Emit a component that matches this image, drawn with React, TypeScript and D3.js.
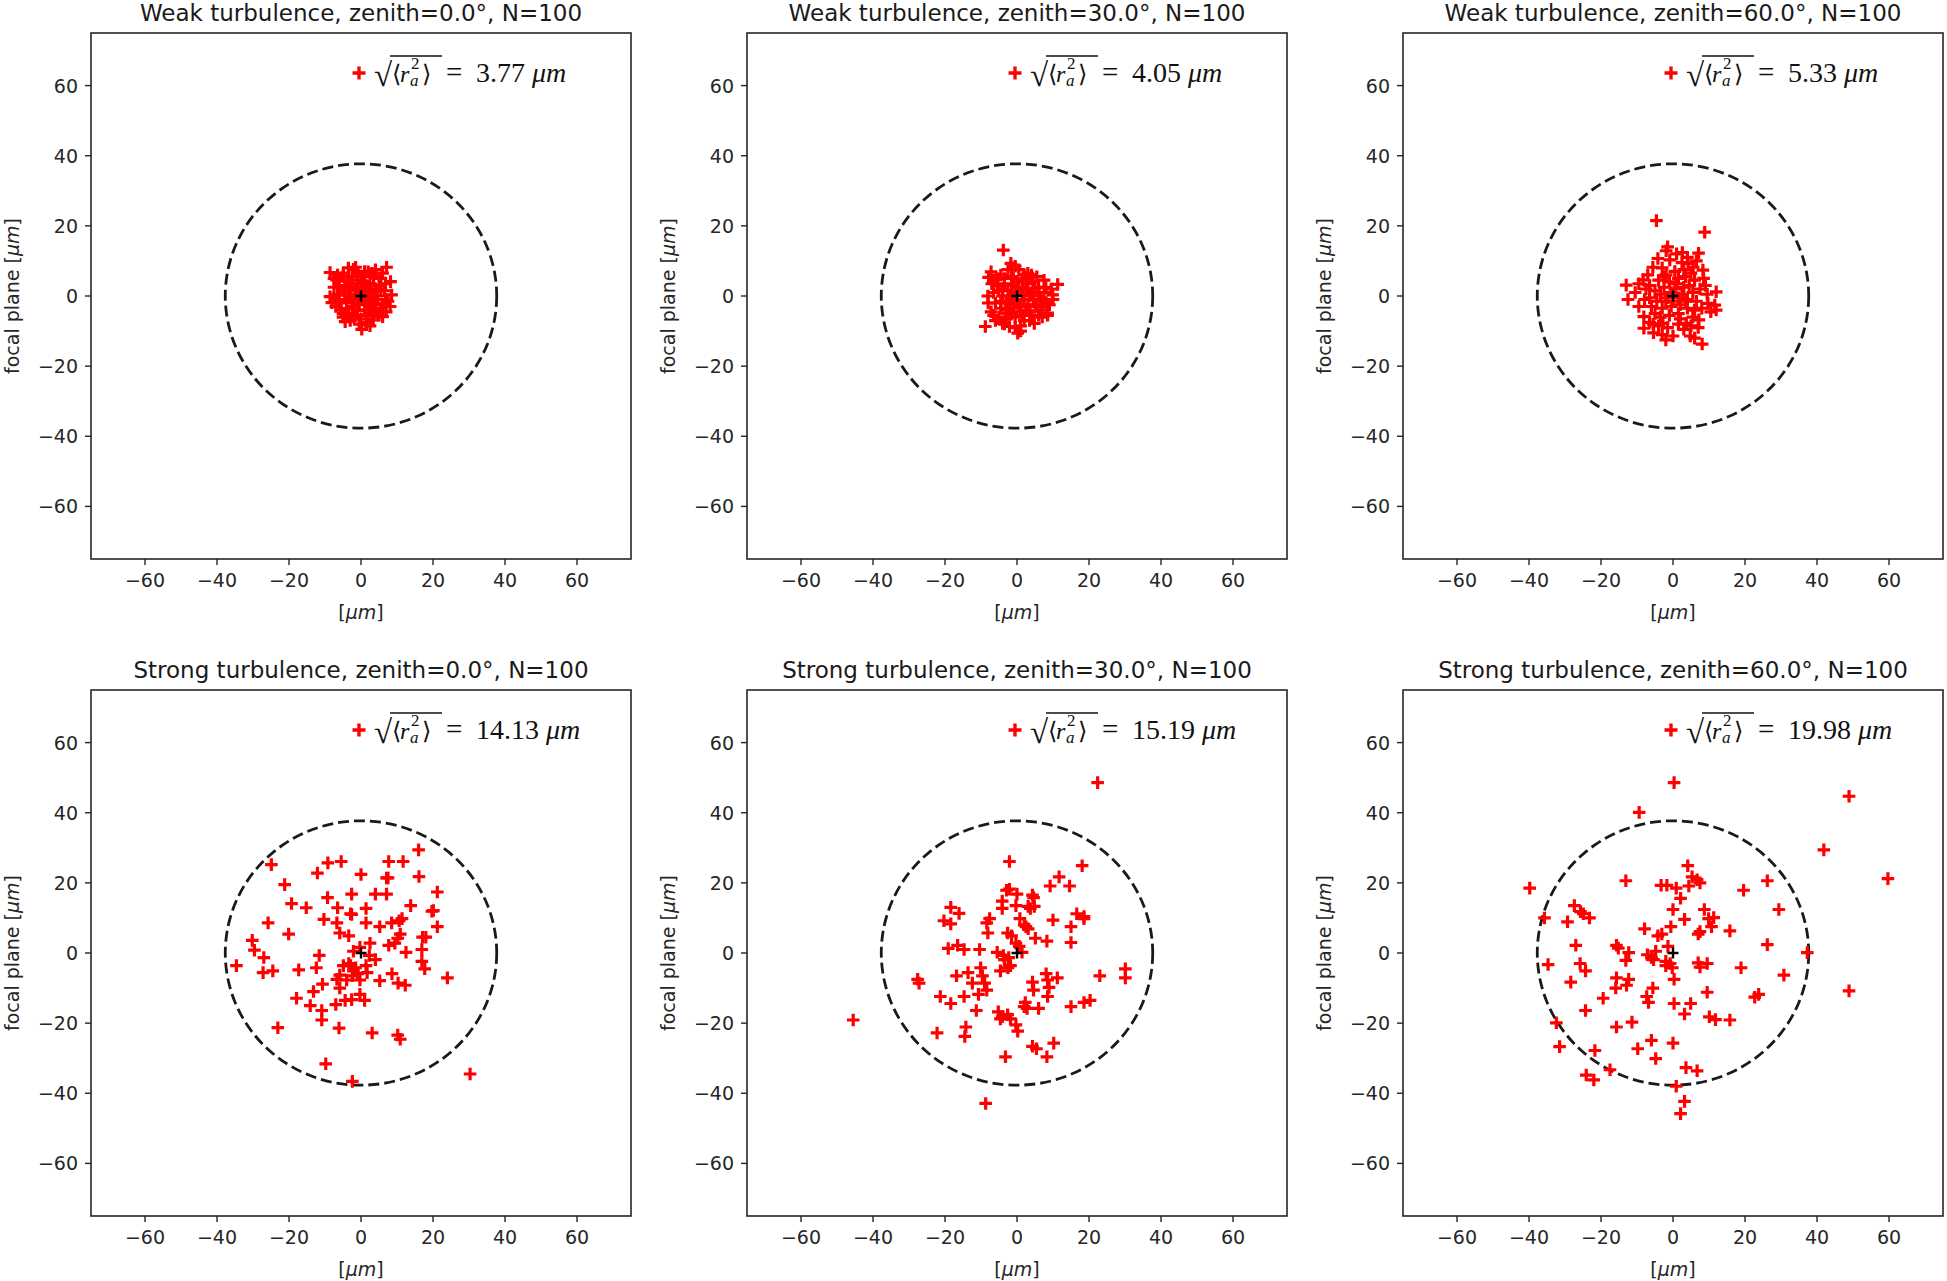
import React from 'react';
import * as d3 from 'd3';

// ---------------- data ----------------
const ZENITHS = [0, 30, 60];
const REGIMES = ['Weak', 'Strong'];
const N_SAMPLES = 100;
const RMS_WEAK = [3.77, 4.05, 5.33];
const RMS_STRONG = [14.13, 15.19, 19.98];
const CIRCLE_R = 37.7;
const TICKS = [-60, -40, -20, 0, 20, 40, 60];
const DOMAIN: [number, number] = [-75, 75];

const weak0: [number, number][] = [
  [7.1, 8.2], [-8.6, 6.7], [-4.9, 6.5], [-2.1, 7.6], [2.0, 6.9], [-6.8, 4.6], [-3.5, 4.6], [8.2, 4.1],
  [-8.6, -0.2], [-8.1, -1.9], [8.5, 0.3], [8.1, -3.0], [-4.4, -7.3], [0.2, -9.5], [3.4, -6.8], [6.0, -5.9],
  [-6.5, 6.0], [-1.0, 6.2], [3.5, 5.5], [5.0, 3.0], [6.5, 1.5], [6.8, -1.0], [5.5, -3.5], [4.0, -4.5],
  [2.0, -5.5], [0.0, -6.5], [-2.0, -6.0], [-3.5, -5.0], [-5.5, -4.0], [-6.0, -2.0], [-6.5, 0.5], [-6.0, 2.5],
  [-4.5, 3.0], [-2.5, 3.5], [-1.0, 4.5], [1.0, 4.0], [2.5, 3.5], [4.0, 2.0], [4.5, 0.0], [4.0, -2.0],
  [2.5, -3.0], [1.0, -4.0], [-1.0, -4.0], [-2.5, -3.0], [-4.0, -1.5], [-4.5, 0.5], [-3.0, 1.5], [-1.5, 2.0],
  [0.5, 2.5], [2.0, 1.5], [2.5, -0.5], [1.5, -2.0], [-0.5, -2.5], [-2.0, -1.0], [-1.5, 0.5], [0.5, 0.5],
  [0.0, -1.0], [1.0, 1.0], [-1.0, 1.5], [3.0, 1.0], [-3.0, -0.5], [-5.0, 1.5], [5.5, 2.0], [6.0, -2.5],
  [3.0, -5.0], [-1.5, -5.5], [-3.0, -7.0], [1.5, -7.5], [-7.0, -3.0], [-7.5, 2.5], [-5.0, 5.5], [0.5, 5.5],
  [3.0, 6.5], [5.5, 5.0], [6.8, 3.5], [7.5, -1.5], [7.0, -4.5], [-2.5, 5.5], [4.5, -1.0], [-4.0, -3.5],
  [-5.0, -5.0], [-0.5, -8.0], [2.5, -8.5], [1.0, 7.0], [-7.5, 5.0], [-3.5, 8.0], [-1.5, 8.2], [4.0, 7.5],
  [6.0, 6.5], [5.0, -5.5], [-5.0, -6.0], [1.5, 3.0], [-2.0, -2.0], [3.5, -3.5], [-3.5, 2.5], [0.0, 3.5],
  [2.0, -1.5], [-1.0, -0.5], [1.5, 0.0], [-6.0, -1.0],
];

const weak30: [number, number][] = [
  [-3.8, 13.1], [-1.7, 9.3], [-7.2, 6.9], [-7.9, 5.3], [3.0, 6.5], [11.3, 3.3], [-8.1, 0], [9.9, 0.3],
  [8.1, -1.9], [8.5, -4.9], [-7.2, -4.5], [-8.8, -8.7], [-4.0, -7.8], [-2.1, -8.7], [0.2, -10.6], [4.8, -7.8],
  [0.5, 7.5], [-4.5, 6.0], [-1.5, 5.5], [1.5, 4.5], [4.5, 4.0], [6.0, 2.5], [7.5, 1.0], [6.5, -1.0],
  [5.5, -3.0], [3.5, -4.5], [1.5, -5.5], [-0.5, -6.0], [-2.5, -5.0], [-4.5, -3.5], [-6.0, -2.0], [-6.5, 1.0],
  [-5.5, 3.0], [-3.5, 3.5], [-1.5, 3.0], [0.5, 2.5], [2.5, 2.0], [4.0, 1.0], [4.5, -1.0], [3.0, -2.5],
  [1.0, -3.0], [-1.0, -3.5], [-3.0, -2.0], [-4.0, 0.0], [-2.5, 1.5], [-0.5, 1.0], [1.5, 0.5], [2.0, -1.0],
  [0.0, -1.5], [-1.5, -1.0], [-5.0, -6.0], [-3.0, -6.5], [2.0, -7.0], [6.0, -5.5], [7.0, -3.0], [9.0, -2.5],
  [9.5, 2.0], [7.5, 4.5], [5.5, 5.5], [2.0, 6.0], [-2.5, 7.5], [-5.5, 5.0], [-6.5, -5.5], [-3.5, -8.0],
  [1.0, -8.5], [3.5, -7.0], [-0.5, -9.0], [8.0, 2.5], [10.0, -1.0], [-7.0, 3.5], [-8.0, -2.0], [-5.0, 1.5],
  [3.0, 3.5], [5.0, 2.0], [6.0, 0.0], [-1.0, 5.0], [-3.5, 5.0], [1.0, -4.5], [-2.0, -2.5], [3.5, 0.0],
  [5.0, -2.5], [-0.5, 8.5], [2.5, 5.0], [4.0, 6.0], [-2.0, 0.0], [0.5, -2.5], [-4.5, -1.5], [2.5, -4.0],
  [-6.0, -7.0], [6.5, -4.0], [0.0, 4.0], [-3.0, -4.0], [1.5, 1.5], [-1.5, -5.0], [4.0, -5.5], [-4.0, 2.0],
  [7.0, -6.0], [8.5, -5.5], [-6.5, 4.5], [1.0, -10.0],
];

const weak60: [number, number][] = [
  [-4.6, 21.5], [8.8, 18.2], [-1.9, 12.9], [2.6, 12.4], [7.1, 12.2], [-4.2, 10.7], [-0.9, 10.3], [4.2, 9.3],
  [-5.6, 8.2], [5.6, 8.2], [8.3, 7.4], [-1.9, 6.0], [-8.3, 4.6], [-13.0, 3.1], [-12.5, -1.0], [12.0, 1.2],
  [11.6, -2.6], [12.0, -4.0], [9.7, -2.1], [-7.9, -1.0], [-6.0, -3.0], [-8.1, -5.9], [-8.1, -9.2], [-5.4, -10.5],
  [0, -11.4], [4.8, -11.4], [8.1, -13.7], [7.2, -6.8], [3.7, -7.8], [-2.8, -7.8],
  [-6.5, 3.0], [-4.0, 4.5], [-1.0, 4.0], [1.5, 5.0], [3.5, 5.5], [6.0, 4.5], [7.5, 2.0], [5.5, 1.0],
  [3.0, 2.5], [0.5, 2.0], [-2.5, 2.5], [-5.0, 1.5], [-9.5, 3.5], [-10.5, 1.0], [-3.5, 0.5], [-1.5, -0.5],
  [1.5, -0.5], [4.0, -1.0], [6.5, -1.5], [8.0, -3.5], [6.0, -4.0], [4.0, -3.5], [2.0, -2.5], [-0.5, -3.0],
  [-3.0, -3.5], [-5.0, -5.0], [-3.5, -6.0], [-1.0, -5.5], [1.5, -5.0], [5.5, -6.0], [3.0, -9.5], [-1.5, -9.0],
  [-4.0, -8.5], [0.5, 7.0], [-3.0, 8.0], [2.5, 9.5], [6.5, 10.0], [-2.5, 5.5], [4.5, 3.0], [9.5, 0.5],
  [7.0, -9.0], [6.0, -12.0], [-6.5, -7.5], [-3.0, -11.0], [1.5, -8.0], [-9.5, -3.0], [-7.0, 6.0], [1.0, 12.0],
  [-1.5, 14.0], [3.0, 7.5], [0.0, -1.5], [-6.5, -0.5], [10.5, -4.5], [8.5, 5.0], [-4.5, -1.5], [2.5, 0.5],
  [-2.0, -12.5], [5.0, -8.5], [-0.5, 1.0], [1.0, 3.5], [-2.0, -1.5], [3.5, -1.5], [5.0, 6.5], [-7.5, 2.0],
  [2.0, -6.5], [-5.5, -8.0], [9.0, 3.0], [4.0, 11.0],
];

const strong0: [number, number][] = [
  [-24.9, 25.2], [-9.2, 25.7], [-5.5, 26.1], [-12.1, 22.8], [0, 22.4], [7.7, 26.1], [11.7, 26.1], [16.0, 29.4],
  [7.5, 21.4], [16.1, 21.8], [-21.2, 19.5], [-19.3, 14.1], [-15.2, 12.9], [-9.3, 15.8], [-2.6, 16.8], [4.0, 16.8],
  [7.1, 16.8], [21.2, 17.4], [13.8, 13.5], [1.4, 12.7], [-6.5, 12.9], [-2.6, 11.0], [19.7, 11.9], [-25.8, 8.6],
  [-10.3, 9.6], [-6.7, 8.6], [1.4, 8.6], [10.6, 9.2], [8.5, 8.6], [5.2, 7.5], [21.2, 7.5], [-20.1, 5.4],
  [-30.2, 3.6], [-29.6, 0.8], [-27.0, -1.3], [-34.6, -3.6], [-27.2, -5.6], [-24.5, -5.1], [-17.3, -4.8], [-12.4, -4.2],
  [-11.6, -0.7], [-5.9, 5.7], [-3.4, 4.9], [2.5, 2.8], [-4.9, -3.6], [-2.9, -3.6], [-2.1, -5.1], [-0.9, -5.9],
  [-0.3, -7.7], [1.4, -3.6], [2.3, -0.7], [-2.1, 0.5], [-5.9, -6.3], [-5.9, -10.0], [-10.7, -8.9], [-13.2, -11.0],
  [-17.9, -12.9], [-14.1, -15.0], [-10.9, -16.4], [-10.9, -19.1], [-7.0, -14.7], [-4.4, -13.5], [-2.6, -13.3], [-0.3, -11.8],
  [1.0, -13.5], [5.2, -7.9], [8.6, -5.9], [7.7, 2.2], [9.4, 2.8], [10.2, 4.2], [10.9, 5.4], [12.5, 0.2],
  [17.1, 4.5], [18.0, 4.5], [16.9, 1.0], [16.9, -2.4], [17.7, -4.5], [24.0, -7.1], [10.3, -8.6], [12.3, -9.2],
  [-6.1, -21.4], [-23.1, -21.3], [3.1, -22.8], [10.2, -23.4], [10.9, -24.6], [-9.8, -31.6], [-2.4, -36.6], [30.3, -34.5],
  [-3.4, -3.0], [-1.5, -4.2], [-2.4, -6.5], [-4.0, -7.7], [-6.7, -7.5], [1.7, -5.6], [4.0, -1.9], [-0.3, 1.6],
  [-2.9, 11.2], [7.1, 21.4], [20.1, 12.1], [11.4, 9.8],
];

const strong30: [number, number][] = [
  [22.4, 48.6], [-2.1, 26.1], [18.1, 24.9], [11.7, 21.7], [9.2, 19.1], [14.6, 19.1], [-2.9, 17.9], [0, 16.8],
  [4.3, 16.5], [4.6, 15.8], [-4.1, 14.8], [-0.3, 13.5], [3.1, 13.3], [3.7, 12.7], [-4.1, 12.7], [-18.4, 13.0],
  [-16.1, 11.3], [-20.3, 9.2], [-18.4, 8.3], [-7.6, 9.8], [-8.4, 8.6], [-8.1, 5.7], [0.8, 9.8], [2.0, 8.0],
  [2.5, 7.5], [3.1, 6.9], [-2.6, 5.7], [-1.5, 4.9], [5.1, 4.2], [8.3, 3.4], [10.0, 9.4], [16.6, 11.2],
  [18.6, 10.4], [15.0, 7.5], [15.0, 3.0], [-19.1, 1.3], [-16.5, 2.2], [-14.7, 1.0], [-10.4, 1.0], [-5.5, 0.2],
  [-3.8, -0.7], [-2.3, -1.3], [-3.5, -1.9], [-1.8, -3.6], [-4.6, -5.1], [-0.3, 2.8], [-27.6, -7.5], [-27.2, -8.6],
  [-16.8, -6.5], [-13.6, -5.6], [-10.1, -4.2], [-9.6, -6.5], [-9.0, -8.6], [-8.4, -10.6], [-10.7, -11.8], [-14.7, -12.4],
  [-21.3, -12.4], [-18.4, -14.4], [-11.3, -16.4], [-14.2, -21.1], [-14.5, -23.8], [-22.2, -22.8], [-5.2, -16.8], [-4.6, -18.8],
  [-2.6, -17.6], [-1.8, -18.8], [-0.3, -20.5], [0.2, -22.3], [-3.2, -29.6], [4.3, -8.3], [4.6, -10.6], [8.5, -7.7],
  [8.9, -9.8], [8.5, -12.4], [11.2, -7.1], [2.3, -14.1], [2.8, -15.8], [6.0, -15.8], [15.0, -15.3], [18.6, -14.1],
  [20.3, -13.5], [23.0, -6.5], [30.1, -4.5], [30.1, -7.1], [4.3, -26.6], [5.4, -27.3], [10.2, -25.7], [8.3, -29.6],
  [-8.7, -42.9], [-45.5, -19.1], [1.4, 0.2], [0.6, 1.9], [-2.5, -4.2], [8.1, -5.9], [2.0, -15.3], [-4.1, -18.2],
  [-12.4, -8.6], [4.8, 13.3], [-2.1, 18.2], [18.6, 9.8],
];

const strong60: [number, number][] = [
  [0.3, 48.6], [48.9, 44.7], [-9.4, 40.1], [41.9, 29.4], [59.7, 21.2], [-39.8, 18.5], [4.1, 24.9], [-13.1, 20.6],
  [-3.3, 19.3], [-1.7, 19.3], [0.9, 18.5], [2.1, 15.6], [4.4, 19.1], [5.3, 21.7], [6.7, 20.9], [7.5, 20.0],
  [26.2, 20.6], [19.6, 17.9], [29.4, 12.4], [8.7, 12.4], [9.9, 9.8], [11.3, 10.1], [10.7, 7.5], [3.2, 9.6],
  [0, 12.4], [-0.6, 7.5], [-3.1, 5.4], [-4.2, 4.9], [-7.9, 6.9], [7.0, 5.4], [7.5, 6.1], [15.8, 6.3],
  [26.2, 2.4], [37.3, 0.1], [-35.7, 10.0], [-27.4, 13.5], [-25.7, 11.8], [-24.9, 11.2], [-23.2, 10.0], [-29.3, 8.9],
  [-27.0, 2.2], [-34.7, -3.3], [-25.8, -3.0], [-24.3, -5.1], [-28.4, -8.3], [-15.7, 2.2], [-15.2, 1.4], [-12.3, 0.1],
  [-13.1, -2.1], [-7.1, -0.5], [-6.0, -1.3], [-4.8, 0.5], [-1.4, 1.9], [-2.0, -2.4], [-0.8, -3.0], [-0.2, -4.2],
  [0.3, -7.5], [-2.0, -3.6], [-5.4, -1.9], [7.0, -2.8], [7.5, -4.0], [9.5, -3.0], [18.9, -4.2], [30.8, -6.3],
  [48.9, -10.8], [-15.7, -7.1], [-15.9, -10.0], [-12.3, -7.5], [-12.9, -9.2], [-19.4, -12.9], [-7.3, -12.4], [-6.8, -14.1],
  [-5.6, -10.0], [9.5, -11.2], [22.7, -12.6], [23.8, -11.8], [0.3, -14.4], [4.9, -14.4], [3.2, -17.4], [10.1, -18.2],
  [11.8, -19.0], [15.8, -19.1], [-24.3, -16.4], [-32.4, -19.9], [-15.7, -21.1], [-11.4, -19.7], [-31.5, -26.7], [-21.7, -27.8],
  [-9.8, -27.3], [-6.0, -24.9], [-4.8, -30.1], [0, -25.7], [-24.1, -34.8], [-22.0, -36.2], [-17.5, -33.3], [3.6, -32.7],
  [6.7, -33.6], [0.9, -38.0], [3.2, -42.3], [2.1, -45.8],
];

const SAMPLES = [
  [weak0, weak30, weak60],
  [strong0, strong30, strong60],
];
const RMS = [RMS_WEAK, RMS_STRONG];

// ---------------- layout ----------------
const W = 1947;
const H = 1281;
const COL_LEFT = [91, 747, 1403];
const ROW_TOP = [33, 690];
const PW = 540;
const PH = 526;
const SANS = 'DejaVu Sans, Verdana, sans-serif';
const SERIF = 'Liberation Serif, DejaVu Serif, serif';
const AX = '#262626';

const plusPath = (s: number) => `M${-s},0H${s}M0,${-s}V${s}`;
const fmtTick = (v: number) => (v < 0 ? '\u2212' + Math.abs(v) : String(v));

function Panel({ row, col }: { row: number; col: number }) {
  const left = COL_LEFT[col];
  const top = ROW_TOP[row];
  const x = d3.scaleLinear().domain(DOMAIN).range([left, left + PW]);
  const y = d3.scaleLinear().domain(DOMAIN).range([top + PH, top]);
  const pts = SAMPLES[row][col];
  const rms = RMS[row][col];
  const cx = x(0);
  const cy = y(0);
  const title = `${REGIMES[row]} turbulence, zenith=${ZENITHS[col].toFixed(1)}\u00b0, N=${N_SAMPLES}`;
  const lx = left + 268;
  const ly = top + 40;
  return (
    <g>
      <text x={left + PW / 2} y={top - 12} textAnchor="middle" fontFamily={SANS} fontSize={23} fill="#1a1a1a">
        {title}
      </text>
      {/* dashed circle */}
      <ellipse
        cx={cx}
        cy={cy}
        rx={x(CIRCLE_R) - x(0)}
        ry={y(0) - y(CIRCLE_R)}
        fill="none"
        stroke="#1a1a1a"
        strokeWidth={2.8}
        strokeDasharray="11,5"
      />
      {/* samples */}
      {pts.map(([px, py], i) => (
        <path key={i} d={plusPath(6.3)} transform={`translate(${x(px)},${y(py)})`} stroke="#ff0000" strokeWidth={3.2} fill="none" />
      ))}
      <path d={plusPath(5.5)} transform={`translate(${cx},${cy})`} stroke="#000" strokeWidth={2.4} fill="none" />
      {/* frame */}
      <rect x={left} y={top} width={PW} height={PH} fill="none" stroke={AX} strokeWidth={1.6} />
      {/* ticks */}
      {TICKS.map((t) => (
        <g key={'x' + t}>
          <line x1={x(t)} x2={x(t)} y1={top + PH} y2={top + PH + 6} stroke={AX} strokeWidth={1.4} />
          <text x={x(t)} y={top + PH + 28} textAnchor="middle" fontFamily={SANS} fontSize={19} fill="#262626">
            {fmtTick(t)}
          </text>
        </g>
      ))}
      {TICKS.map((t) => (
        <g key={'y' + t}>
          <line x1={left - 6} x2={left} y1={y(t)} y2={y(t)} stroke={AX} strokeWidth={1.4} />
          <text x={left - 13} y={y(t) + 7} textAnchor="end" fontFamily={SANS} fontSize={19} fill="#262626">
            {fmtTick(t)}
          </text>
        </g>
      ))}
      {/* axis labels */}
      <text x={left + PW / 2} y={top + PH + 60} textAnchor="middle" fontFamily={SANS} fontSize={19} fill="#262626">
        [<tspan fontStyle="italic">μm</tspan>]
      </text>
      <text
        transform={`translate(${left - 72},${top + PH / 2}) rotate(-90)`}
        textAnchor="middle"
        fontFamily={SANS}
        fontSize={19}
        fill="#262626"
      >
        focal plane [<tspan fontStyle="italic">μm</tspan>]
      </text>
      {/* legend */}
      <g transform={`translate(${lx},${ly})`}>
        <path d={plusPath(6.5)} stroke="#ff0000" strokeWidth={3.4} fill="none" />
        <text x={15} y={13} fontFamily={SERIF} fontSize={33} fill="#111">√</text>
        <line x1={31} x2={83} y1={-17} y2={-17} stroke="#111" strokeWidth={1.4} />
        <text y={9} fontFamily={SERIF} fontSize={24} fill="#111">
          <tspan x={33}>⟨</tspan>
          <tspan x={41} fontStyle="italic">r</tspan>
          <tspan x={51} dy={4} fontSize={17} fontStyle="italic">a</tspan>
          <tspan x={52} dy={-17} fontSize={17}>2</tspan>
          <tspan x={63} dy={13}>⟩</tspan>
          <tspan x={87} fontSize={29}>=</tspan>
          <tspan x={117} fontSize={28}>{rms.toFixed(2)}</tspan>
          <tspan dx={7} fontSize={28} fontStyle="italic">μm</tspan>
        </text>
      </g>
    </g>
  );
}

export default function App() {
  return (
    <svg width={W} height={H} style={{ position: 'absolute', left: 0, top: 0, background: '#fff' }}>
      <rect width={W} height={H} fill="#fff" />
      {[0, 1].map((r) => [0, 1, 2].map((c) => <Panel key={`${r}-${c}`} row={r} col={c} />))}
    </svg>
  );
}
